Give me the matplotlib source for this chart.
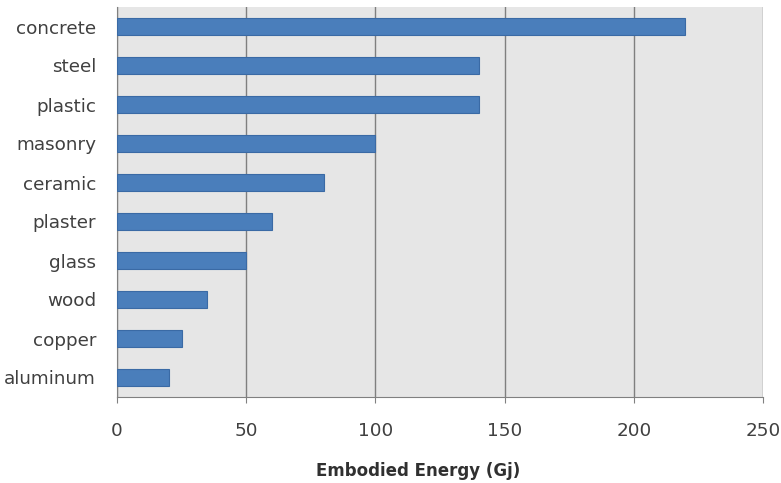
import matplotlib.pyplot as plt

# Embodied energy per material (Gj), top to bottom as in the chart
materials = ["concrete", "steel", "plastic", "masonry", "ceramic",
             "plaster", "glass", "wood", "copper", "aluminum"]
energy = [220, 140, 140, 100, 80, 60, 50, 35, 25, 20]
xticks = [0, 50, 100, 150, 200, 250]

plt.rcParams['font.family'] = ['DejaVu Sans']

fig = plt.figure(figsize=(7.81, 4.83), dpi=100)
ax = fig.add_axes([117/781, 1 - 397/483, (763-117)/781, (397-7)/483])

ypos = list(range(len(materials)))
ax.barh(ypos, energy, height=0.42, color='#4a7ebb', edgecolor='#3a6aa5',
        linewidth=0.8, zorder=3)

ax.set_facecolor('#e6e6e6')
ax.set_xlim(0, 250)
ax.set_ylim(len(materials) - 0.5, -0.5)
ax.set_yticks(ypos)
ax.set_yticklabels(materials, fontsize=13.2, color='#404040')
ax.set_xticks(xticks)
ax.set_xticklabels([str(t) for t in xticks], fontsize=13.2, color='#404040')
ax.tick_params(axis='y', length=0, pad=15)
ax.tick_params(axis='x', length=4, color='#808080', pad=14)

ax.grid(axis='x', color='#7f7f7f', linewidth=1.0, zorder=1)
for side in ('top', 'right'):
    ax.spines[side].set_visible(False)
ax.spines['left'].set_color('#808080')
ax.spines['bottom'].set_color('#808080')

fig.text(418/781, 1 - 471/483, "Embodied Energy (Gj)", fontsize=12,
         fontweight='bold', color='#303030', ha='center', va='center')

fig.savefig("out.png", dpi=100, facecolor='white')
